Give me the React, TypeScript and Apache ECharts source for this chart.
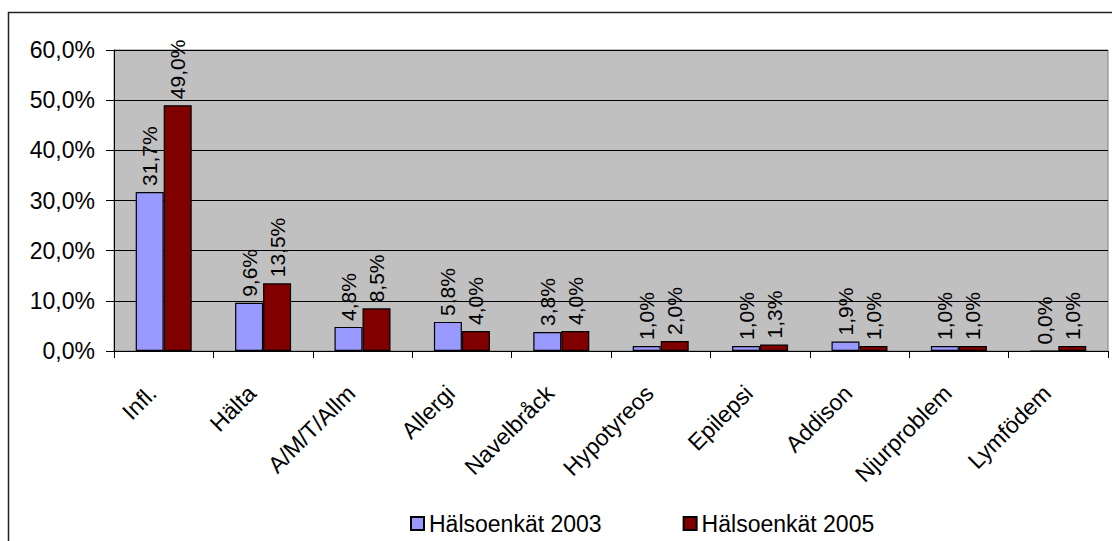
import React, { useEffect, useRef } from "react";
import * as echarts from "echarts";

const categories = ["Infl.", "Hälta", "A/M/T/Allm", "Allergi", "Navelbråck", "Hypotyreos", "Epilepsi", "Addison", "Njurproblem", "Lymfödem"];
const series2003 = [31.7, 9.6, 4.8, 5.8, 3.8, 1.0, 1.0, 1.9, 1.0, 0.0];
const series2005 = [49.0, 13.5, 8.5, 4.0, 4.0, 2.0, 1.3, 1.0, 1.0, 1.0];
const seriesNames = ["Hälsoenkät 2003", "Hälsoenkät 2005"];

const FONT = "'Liberation Sans', Arial, sans-serif";
const fmt = (v: number) => v.toFixed(1).replace(".", ",") + "%";

export default function App() {
  const ref = useRef<HTMLDivElement>(null);
  useEffect(() => {
    if (!ref.current) return;
    const chart = echarts.init(ref.current, undefined, { renderer: "svg" });
    const label = {
      show: true,
      position: "top" as const,
      rotate: 90,
      align: "left",
      verticalAlign: "middle",
      distance: 6,
      fontSize: 21,
      fontFamily: FONT,
      color: "#000",
      formatter: (p: any) => fmt(p.value),
    };
    chart.setOption({
      animation: false,
      textStyle: { fontFamily: FONT },
      graphic: [
        {
          type: "rect",
          shape: { x: 8.5, y: 12.5, width: 1300, height: 700 },
          style: { fill: "none", stroke: "#222", lineWidth: 1.5 },
          silent: true,
          z: -10,
        },
      ],
      grid: {
        left: 114,
        right: 4,
        top: 50,
        bottom: 190,
        show: true,
        backgroundColor: "#C0C0C0",
        borderColor: "#808080",
        borderWidth: 1,
      },
      legend: {
        left: 410,
        top: 512,
        padding: 0,
        itemGap: 81,
        itemWidth: 13,
        itemHeight: 13,
        icon: "rect",
        textStyle: { fontSize: 23, fontFamily: FONT, color: "#000" },
        data: seriesNames,
      },
      xAxis: {
        type: "category",
        data: categories,
        axisLine: { lineStyle: { color: "#000", width: 1 } },
        axisTick: { show: true, length: 7, lineStyle: { color: "#000" } },
        axisLabel: {
          rotate: 45,
          margin: 27,
          padding: [0, 16, 0, 0],
          fontSize: 23,
          fontFamily: FONT,
          color: "#000",
          interval: 0,
        },
      },
      yAxis: {
        type: "value",
        min: 0,
        max: 60,
        interval: 10,
        axisLine: { show: true, lineStyle: { color: "#000", width: 1 } },
        axisTick: { show: true, length: 8, lineStyle: { color: "#000" } },
        splitLine: { show: true, lineStyle: { color: "#000", width: 1 } },
        axisLabel: {
          margin: 19,
          fontSize: 23,
          fontFamily: FONT,
          color: "#000",
          formatter: (v: number) => fmt(v),
        },
      },
      series: [
        {
          name: seriesNames[0],
          type: "bar",
          data: series2003,
          barWidth: 28,
          barGap: "0%",
          itemStyle: { color: "#9999FF", borderColor: "#000", borderWidth: 1.2 },
          label,
        },
        {
          name: seriesNames[1],
          type: "bar",
          data: series2005,
          barWidth: 28,
          barGap: "0%",
          itemStyle: { color: "#800000", borderColor: "#000", borderWidth: 1.2 },
          label,
        },
      ],
    });
    return () => chart.dispose();
  }, []);
  return (
    <div
      ref={ref}
      style={{ position: "fixed", left: 0, top: 0, width: 1112, height: 541, background: "#fff" }}
    />
  );
}
